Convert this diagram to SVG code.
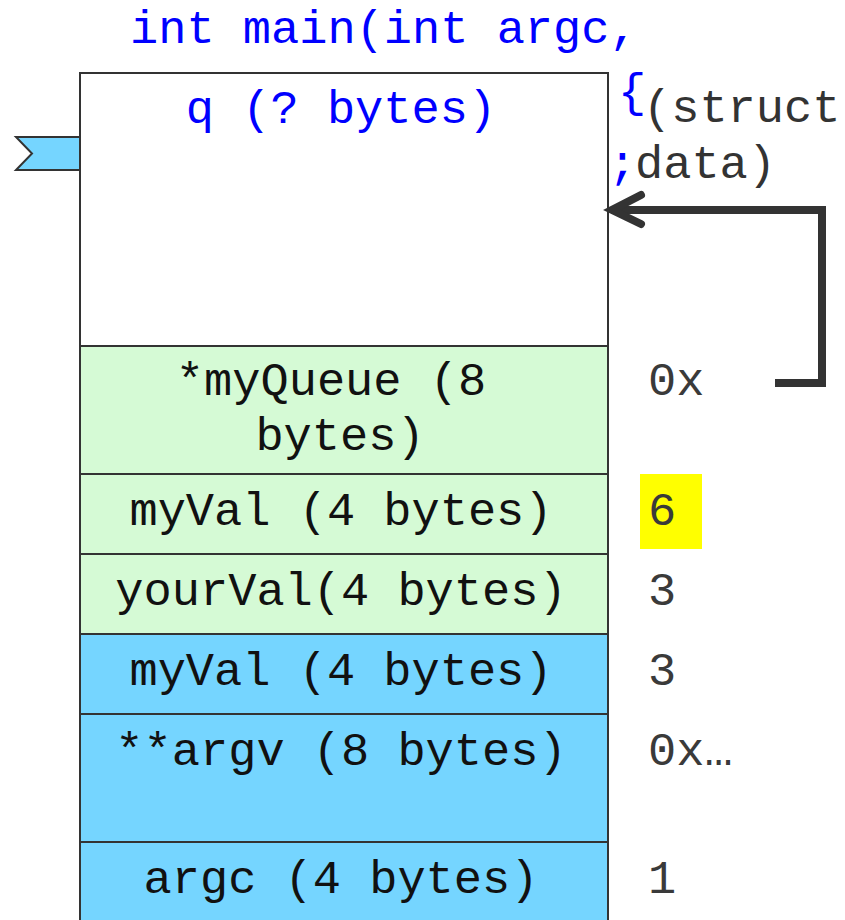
<svg xmlns="http://www.w3.org/2000/svg" width="845" height="920" viewBox="0 0 845 920">
  <style>
    .mono { font-family: "Liberation Mono", "Courier New", monospace; font-size: 47px; }
    .code { fill: #0000ff; }
    .lbl { fill: #111111; text-anchor: middle; }
    .val { fill: #3a3a3a; }
    .cell { stroke: #333333; stroke-width: 2; }
    .local { fill: #d5fad5; }
    .param { fill: #75d5ff; }
  </style>
  <rect width="845" height="920" fill="#ffffff"/>

  <!-- source code fragment behind the frame -->
  <g id="code">
    <text class="mono code" x="130" y="43" font-size="48">int main(int argc,</text>
    <text class="mono code" x="618" y="106" font-size="24">{</text>
    <text class="mono" x="643" y="122" fill="#333333">(struct</text>
    <text class="mono code" x="580" y="178">};</text>
    <text class="mono" x="635" y="178" fill="#333333">data)</text>
  </g>

  <!-- frame marker -->
  <g id="flag">
    <polygon points="16,137 82,137 82,170 16,170 32,153.5" fill="#75d5ff" stroke="#333333" stroke-width="2"/>
  </g>

  <!-- stack frame cells -->
  <g id="q">
    <rect class="cell" x="80" y="73" width="528" height="273" fill="#ffffff"/>
    <text class="mono" x="341" y="123" fill="#0000ff" text-anchor="middle">q (? bytes)</text>
  </g>
  <g id="myQueue">
    <rect class="cell local" x="80" y="346" width="528" height="128"/>
    <text class="mono lbl" x="331" y="395">*myQueue (8</text>
    <text class="mono lbl" x="340" y="450">bytes)</text>
  </g>
  <g id="myVal-main">
    <rect class="cell local" x="80" y="474" width="528" height="80"/>
    <text class="mono lbl" x="341" y="525">myVal (4 bytes)</text>
  </g>
  <g id="yourVal">
    <rect class="cell local" x="80" y="554" width="528" height="80"/>
    <text class="mono lbl" x="341" y="605">yourVal(4 bytes)</text>
  </g>
  <g id="myVal-param">
    <rect class="cell param" x="80" y="634" width="528" height="80"/>
    <text class="mono lbl" x="341" y="685">myVal (4 bytes)</text>
  </g>
  <g id="argv">
    <rect class="cell param" x="80" y="714" width="528" height="128"/>
    <text class="mono lbl" x="341" y="765">**argv (8 bytes)</text>
  </g>
  <g id="argc">
    <rect class="cell param" x="80" y="842" width="528" height="90"/>
    <text class="mono lbl" x="341" y="893">argc (4 bytes)</text>
  </g>

  <!-- stored values -->
  <g id="values">
    <rect x="640" y="474" width="62" height="75" fill="#ffff00"/>
    <text class="mono val" x="648" y="395">0x</text>
    <text class="mono val" x="648" y="525">6</text>
    <text class="mono val" x="648" y="605">3</text>
    <text class="mono val" x="648" y="685">3</text>
    <text class="mono val" x="648" y="765">0x…</text>
    <text class="mono val" x="648" y="893">1</text>
  </g>

  <!-- pointer from myQueue to q -->
  <g id="connectors" fill="none" stroke="#333333" stroke-width="8" stroke-linecap="round" stroke-linejoin="miter">
    <path d="M775,383 H822 V210 H614" stroke-linecap="butt"/>
    <path d="M641,195 L612,210 L641,224"/>
  </g>
</svg>
